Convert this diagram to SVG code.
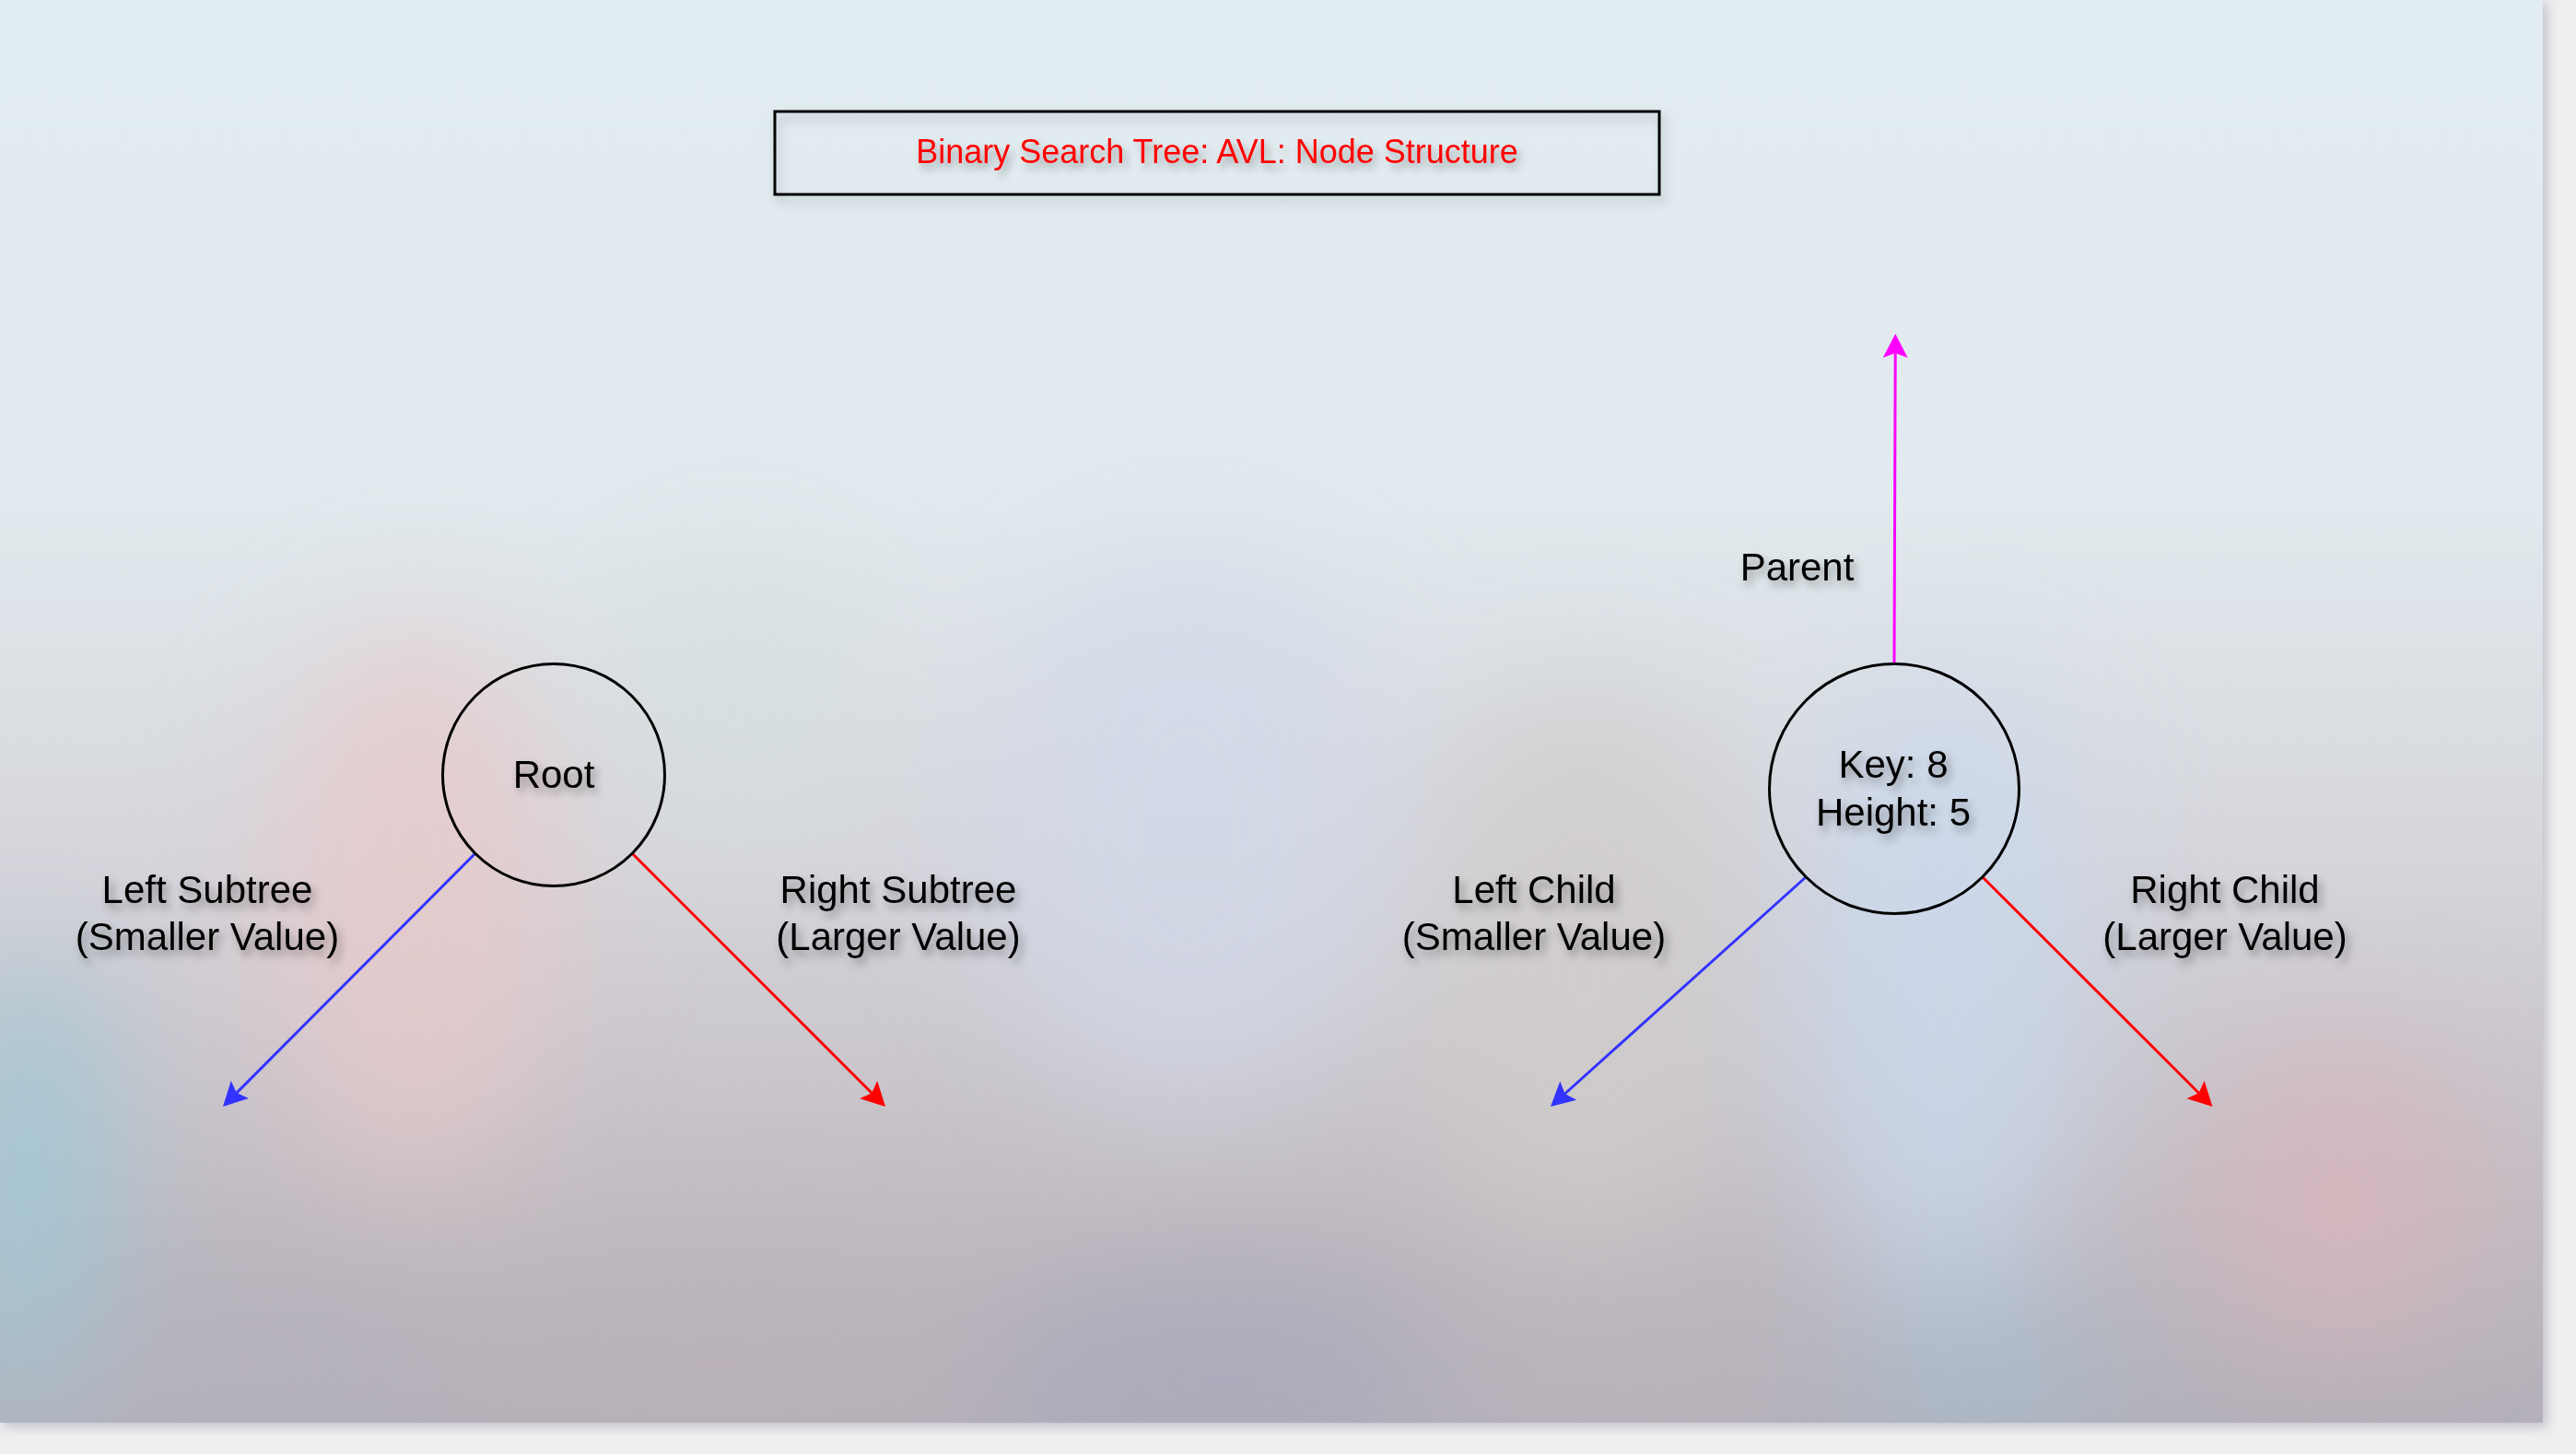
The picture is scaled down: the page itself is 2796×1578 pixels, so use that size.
<svg xmlns="http://www.w3.org/2000/svg" width="2796" height="1578" viewBox="0 0 2796 1578">
  <style>
    .lbl { font-family: "Liberation Sans", Arial, Helvetica, sans-serif; font-size: 42px; fill: #000; text-anchor: middle; filter: url(#tshadow); }
    .title { font-family: "Liberation Sans", Arial, Helvetica, sans-serif; font-size: 36px; fill: #ff0000; text-anchor: middle; filter: url(#tshadow); }
    .node { fill: none; stroke: #000; stroke-width: 3; }
    .edge { fill: none; stroke-width: 3; }
    .blue { stroke: #3333ff; }
    .red { stroke: #ff0000; }
    .mag { stroke: #ff00ff; }
  </style>
  <defs>
    <linearGradient id="bg" x1="0" y1="0" x2="0" y2="1">
      <stop offset="0" stop-color="#e2edf1"/>
      <stop offset="0.35" stop-color="#e1eaee"/>
      <stop offset="0.6" stop-color="#d6d6dc"/>
      <stop offset="0.85" stop-color="#c2bcc2"/>
      <stop offset="1" stop-color="#b4b0b9"/>
    </linearGradient>
    <filter id="blur" x="-50%" y="-50%" width="200%" height="200%">
      <feGaussianBlur stdDeviation="70"/>
    </filter>
    <filter id="tshadow" x="-20%" y="-50%" width="140%" height="200%">
      <feDropShadow dx="4" dy="6" stdDeviation="5" flood-color="#000" flood-opacity="0.35"/>
    </filter>
    <filter id="bshadow" x="-10%" y="-50%" width="120%" height="200%">
      <feDropShadow dx="4" dy="7" stdDeviation="6" flood-color="#000" flood-opacity="0.25"/>
    </filter>
    <filter id="pshadow" x="-5%" y="-5%" width="110%" height="110%">
      <feDropShadow dx="4" dy="4" stdDeviation="7" flood-color="#9a9ab0" flood-opacity="0.6"/>
    </filter>
    <clipPath id="panelClip">
      <rect x="0" y="0" width="2760" height="1544"/>
    </clipPath>
    <marker id="ahBlue" markerUnits="userSpaceOnUse" viewBox="-10 -16 36 32" refX="0" refY="0" markerWidth="36" markerHeight="32" orient="auto" overflow="visible">
      <path d="M21,0 L-5,-13.5 L0,0 L-5,13.5 Z" fill="#3333ff"/>
    </marker>
    <marker id="ahRed" markerUnits="userSpaceOnUse" viewBox="-10 -16 36 32" refX="0" refY="0" markerWidth="36" markerHeight="32" orient="auto" overflow="visible">
      <path d="M21,0 L-5,-13.5 L0,0 L-5,13.5 Z" fill="#ff0000"/>
    </marker>
    <marker id="ahMag" markerUnits="userSpaceOnUse" viewBox="-10 -16 36 32" refX="0" refY="0" markerWidth="36" markerHeight="32" orient="auto" overflow="visible">
      <path d="M21,0 L-5,-13.5 L0,0 L-5,13.5 Z" fill="#ff00ff"/>
    </marker>
  </defs>

  <!-- page background -->
  <rect x="0" y="0" width="2796" height="1578" fill="#efefef"/>
  <rect x="0" y="0" width="2760" height="1544" fill="#e2edf1" filter="url(#pshadow)"/>

  <!-- panel with blurred colour field -->
  <g clip-path="url(#panelClip)">
    <rect x="0" y="0" width="2760" height="1544" fill="url(#bg)"/>
    <g filter="url(#blur)">
      <ellipse cx="450" cy="980" rx="150" ry="300" fill="#e8c8c8" opacity="0.75"/>
      <ellipse cx="30" cy="1300" rx="90" ry="260" fill="#9ec8d6" opacity="0.9"/>
      <ellipse cx="800" cy="760" rx="140" ry="160" fill="#d6e0dc" opacity="0.6"/>
      <ellipse cx="1290" cy="900" rx="220" ry="300" fill="#d2d8ea" opacity="0.7"/>
      <ellipse cx="1720" cy="1050" rx="180" ry="300" fill="#d0cccb" opacity="0.8"/>
      <ellipse cx="2110" cy="1080" rx="160" ry="340" fill="#c8d8ee" opacity="0.75"/>
      <ellipse cx="2540" cy="1300" rx="140" ry="170" fill="#dab4ba" opacity="0.7"/>
      <ellipse cx="1330" cy="1500" rx="260" ry="120" fill="#a6a8ba" opacity="0.7"/>
      <ellipse cx="780" cy="1500" rx="300" ry="120" fill="#bcb2b8" opacity="0.6"/>
      <ellipse cx="250" cy="1480" rx="220" ry="120" fill="#b4b2bc" opacity="0.6"/>
      <ellipse cx="2150" cy="1500" rx="150" ry="120" fill="#a8bccc" opacity="0.7"/>
      <ellipse cx="1750" cy="1480" rx="250" ry="110" fill="#bcb6bc" opacity="0.6"/>
    </g>
  </g>

  <!-- title -->
  <g id="title">
    <rect x="841" y="121" width="960" height="90" fill="none" stroke="#000" stroke-width="3" filter="url(#bshadow)"/>
    <text class="title" x="1321" y="177">Binary Search Tree: AVL: Node Structure</text>
  </g>

  <!-- connectors -->
  <g id="connectors">
    <line class="edge blue" x1="516" y1="926" x2="256.8" y2="1186.1" marker-end="url(#ahBlue)"/>
    <line class="edge red" x1="686" y1="926" x2="946.2" y2="1186.2" marker-end="url(#ahRed)"/>
    <line class="edge blue" x1="1960.5" y1="951.5" x2="1698.6" y2="1187" marker-end="url(#ahBlue)"/>
    <line class="edge red" x1="2151.5" y1="951.5" x2="2386.6" y2="1186.2" marker-end="url(#ahRed)"/>
    <line class="edge mag" x1="2056" y1="721" x2="2057.2" y2="383.3" marker-end="url(#ahMag)"/>
  </g>

  <!-- nodes -->
  <g id="root">
    <circle class="node" cx="601" cy="841" r="120.5"/>
    <text class="lbl" x="601" y="855">Root</text>
  </g>
  <g id="avlnode">
    <circle class="node" cx="2056" cy="856" r="135.5"/>
    <text class="lbl" x="2055" y="844">Key: 8</text>
    <text class="lbl" x="2055" y="896">Height: 5</text>
  </g>

  <!-- edge labels -->
  <g id="label-parent">
    <text class="lbl" x="1950.5" y="630">Parent</text>
  </g>
  <g id="label-left-subtree">
    <text class="lbl" x="225" y="980">Left Subtree</text>
    <text class="lbl" x="225" y="1031">(Smaller Value)</text>
  </g>
  <g id="label-right-subtree">
    <text class="lbl" x="975" y="980">Right Subtree</text>
    <text class="lbl" x="975" y="1031">(Larger Value)</text>
  </g>
  <g id="label-left-child">
    <text class="lbl" x="1665" y="980">Left Child</text>
    <text class="lbl" x="1665" y="1031">(Smaller Value)</text>
  </g>
  <g id="label-right-child">
    <text class="lbl" x="2415" y="980">Right Child</text>
    <text class="lbl" x="2415" y="1031">(Larger Value)</text>
  </g>
</svg>
